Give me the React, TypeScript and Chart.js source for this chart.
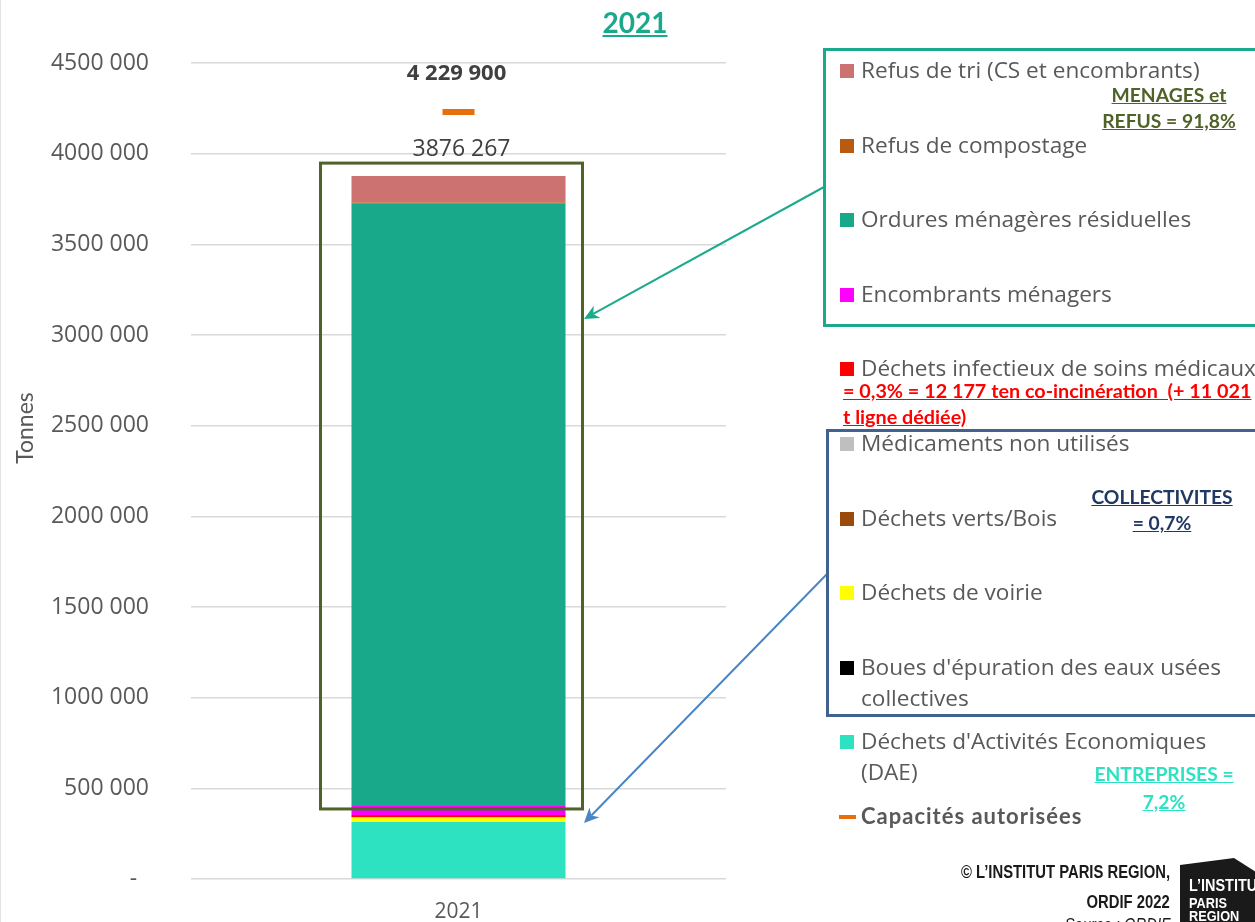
import React, { useEffect, useRef } from "react";
import { Chart, registerables } from "chart.js";
Chart.register(...registerables);

// ---------- DATA ----------
const categories = ["2021"];
// stacked from bottom to top
const dae = [314000];
const boues = [600];
const voirie = [24500];
const vertsBois = [1500];
const medicaments = [400];
const infectieux = [12177];
const encombrants = [50000];
const omr = [3320000];
const refusCompostage = [8000];
const refusTri = [145090];
const capacites = [4229900];

const seriesNames = [
  "Déchets d'Activités Economiques\n(DAE)",
  "Boues d'épuration des eaux usées\ncollectives",
  "Déchets de voirie",
  "Déchets verts/Bois",
  "Médicaments non utilisés",
  "Déchets infectieux de soins médicaux",
  "Encombrants ménagers",
  "Ordures ménagères résiduelles",
  "Refus de compostage",
  "Refus de tri (CS et encombrants)",
];
const seriesData = [dae, boues, voirie, vertsBois, medicaments, infectieux, encombrants, omr, refusCompostage, refusTri];
const seriesColors = ["#2de2c1", "#000000", "#ffff00", "#9a4a0a", "#bfbfbf", "#ff0000", "#ff00ff", "#18a88a", "#b85a10", "#cc7270"];
const capacityName = "Capacités autorisées";
const capacityColor = "#e8700c";

const yMax = 4500000;
const yStep = 500000;

const title = "2021";
const yTitle = "Tonnes";

// ---------- HELPERS ----------
const fmtExcel = (v: number) =>
  v === 0 ? "-  " : v >= 1000 ? `${Math.floor(v / 1000)} ${String(v % 1000).padStart(3, "0")}` : String(v);
const fmtGrouped = (v: number) => String(v).replace(/\B(?=(\d{3})+(?!\d))/g, " ");

const TICK_FONT = '"Open Sans"';
const GRAY = "#595959";
const NARROW = '"Liberation Sans", Arial, sans-serif';

function arrow(ctx: CanvasRenderingContext2D, x1: number, y1: number, x2: number, y2: number, color: string) {
  const a = Math.atan2(y2 - y1, x2 - x1);
  const L = 15;
  const W = 7;
  ctx.strokeStyle = color;
  ctx.lineWidth = 2;
  ctx.beginPath();
  ctx.moveTo(x1, y1);
  ctx.lineTo(x2 - L * 0.7 * Math.cos(a), y2 - L * 0.7 * Math.sin(a));
  ctx.stroke();
  ctx.fillStyle = color;
  ctx.beginPath();
  ctx.moveTo(x2, y2);
  ctx.lineTo(x2 - L * Math.cos(a) + W * Math.sin(a), y2 - L * Math.sin(a) - W * Math.cos(a));
  ctx.lineTo(x2 - L * 0.7 * Math.cos(a), y2 - L * 0.7 * Math.sin(a));
  ctx.lineTo(x2 - L * Math.cos(a) - W * Math.sin(a), y2 - L * Math.sin(a) + W * Math.cos(a));
  ctx.closePath();
  ctx.fill();
}

const annotationPlugin = {
  id: "annotations",
  afterDraw(chart: any) {
    const ctx: CanvasRenderingContext2D = chart.ctx;
    const y = chart.scales.y;
    const bar = chart.getDatasetMeta(0).data[0];
    const cx = bar.x;
    const half = bar.width / 2;
    const total = seriesData.reduce((s, d) => s + d[0], 0);
    const householdBase = seriesData.slice(0, 6).reduce((s, d) => s + d[0], 0);
    const topPx = y.getPixelForValue(total);
    const capPx = y.getPixelForValue(capacites[0]);
    const basePx = y.getPixelForValue(householdBase);

    ctx.save();
    ctx.textAlign = "center";
    ctx.textBaseline = "middle";
    ctx.fillStyle = "#404040";
    ctx.font = `23px ${TICK_FONT}`;
    ctx.fillText(fmtExcel(total), cx + 3, topPx - 27);
    ctx.font = `bold 22px ${TICK_FONT}`;
    ctx.fillText(fmtGrouped(capacites[0]), cx - 2, capPx - 38);

    // households box
    ctx.strokeStyle = "#4f6228";
    ctx.lineWidth = 3;
    ctx.strokeRect(cx - half - 31, topPx - 13, 2 * half + 48, basePx - 6 - (topPx - 13));

    // arrows
    arrow(ctx, 823, 187, 583, 319, "#1bab8b");
    arrow(ctx, 826, 574, 583, 823, "#4a85c5");

    // y title
    ctx.translate(25, 428);
    ctx.rotate(-Math.PI / 2);
    ctx.font = `23px Lato`;
    ctx.fillStyle = GRAY;
    ctx.fillText(yTitle, 0, 0);
    ctx.restore();
  },
};

export default function App() {
  const ref = useRef<HTMLCanvasElement>(null);

  useEffect(() => {
    const datasets: any[] = seriesData.map((d, i) => ({
      type: "bar",
      label: seriesNames[i],
      data: d,
      backgroundColor: seriesColors[i],
      borderWidth: 0,
      stack: "tonnage",
      categoryPercentage: 1,
      barPercentage: 0.4,
    }));
    datasets.push({
      type: "line",
      label: capacityName,
      data: capacites,
      stack: "capacite",
      showLine: false,
      pointStyle: "line",
      pointRadius: 16,
      pointHoverRadius: 16,
      pointBorderWidth: 6,
      borderColor: capacityColor,
      backgroundColor: capacityColor,
    });

    const chart = new Chart(ref.current as HTMLCanvasElement, {
      type: "bar",
      data: { labels: categories, datasets },
      options: {
        responsive: false,
        animation: false,
        layout: { autoPadding: false, padding: { left: 0, right: 530, top: 63, bottom: 0 } },
        plugins: { legend: { display: false }, tooltip: { enabled: false }, title: { display: false } },
        scales: {
          x: {
            stacked: true,
            grid: { display: false, drawTicks: false },
            border: { display: false },
            ticks: { padding: 20, color: GRAY, font: { family: TICK_FONT, size: 21 } },
            afterFit: (s: any) => {
              s.height = 43;
            },
          },
          y: {
            stacked: true,
            min: 0,
            max: yMax,
            grid: { color: "#d9d9d9", lineWidth: 1.5, drawTicks: true, tickLength: 32, tickColor: "rgba(0,0,0,0)" },
            border: { display: false },
            ticks: {
              stepSize: yStep,
              padding: 10,
              color: GRAY,
              font: { family: TICK_FONT, size: 23 },
              callback: (v: any) => fmtExcel(Number(v)),
            },
            afterFit: (s: any) => {
              s.width = 190;
            },
          },
        },
      } as any,
      plugins: [annotationPlugin],
    });
    return () => chart.destroy();
  }, []);

  const legendNames = [...seriesNames].reverse();
  const legendColors = [...seriesColors].reverse();
  const legendFont: React.CSSProperties = {
    position: "absolute",
    fontFamily: TICK_FONT,
    fontSize: 22.6,
    lineHeight: "31px",
    color: GRAY,
    whiteSpace: "pre",
  };
  const noteBase: React.CSSProperties = {
    position: "absolute",
    fontFamily: "Lato",
    fontWeight: 700,
    textDecoration: "underline",
    textAlign: "center",
    whiteSpace: "pre",
    fontSize: 19.3,
  };

  return (
    <div
      style={{
        position: "fixed",
        left: 0,
        top: 0,
        width: 1255,
        height: 922,
        overflow: "hidden",
        background: "#fff",
        borderLeft: "1px solid #e4e4e4",
        boxSizing: "border-box",
      }}
    >
      <canvas ref={ref} width={1255} height={922} style={{ position: "absolute", left: 0, top: 0 }} />

      {/* title */}
      <div
        style={{
          position: "absolute",
          left: 534,
          width: 200,
          top: 3,
          textAlign: "center",
          fontFamily: "Lato",
          fontWeight: 700,
          fontSize: 28,
          lineHeight: "38px",
          color: "#1ba98b",
          textDecoration: "underline",
        }}
      >
        {title}
      </div>

      {/* legend boxes */}
      <div style={{ position: "absolute", left: 822, top: 48, width: 500, height: 279, border: "3px solid #1ba98b", boxSizing: "border-box" }} />
      <div style={{ position: "absolute", left: 825, top: 429, width: 500, height: 288, border: "3px solid #41628f", boxSizing: "border-box" }} />

      {/* legend items */}
      {legendNames.map((name, i) => {
        const cy = 71 + i * 74.6;
        return (
          <React.Fragment key={name}>
            <div style={{ position: "absolute", left: 839, top: cy - 7, width: 14, height: 14, background: legendColors[i] }} />
            <div style={{ ...legendFont, left: 860, top: cy - 17 }}>{name}</div>
          </React.Fragment>
        );
      })}
      {(() => {
        const cy = 71 + legendNames.length * 74.6;
        return (
          <>
            <div style={{ position: "absolute", left: 838, top: cy - 2, width: 17, height: 4, background: capacityColor }} />
            <div style={{ ...legendFont, left: 860, top: cy - 17, fontFamily: "Lato", fontWeight: 700, fontSize: 22, letterSpacing: 1 }}>
              {capacityName}
            </div>
          </>
        );
      })()}

      {/* group notes */}
      <div style={{ ...noteBase, left: 1018, width: 300, top: 82, lineHeight: "26px", color: "#4f6228" }}>
        {"MENAGES et\nREFUS = 91,8%"}
      </div>
      <div style={{ ...noteBase, left: 842, top: 377, lineHeight: "26px", color: "#ff0000", textAlign: "left", fontSize: 19.8 }}>
        {"= 0,3% = 12 177 ten co-incinération  (+ 11 021\nt ligne dédiée)"}
      </div>
      <div style={{ ...noteBase, left: 1011, width: 300, top: 484, lineHeight: "26px", color: "#1f3864" }}>
        {"COLLECTIVITES\n= 0,7%"}
      </div>
      <div style={{ ...noteBase, left: 1013, width: 300, top: 760, lineHeight: "28px", color: "#2de2c1" }}>
        {"ENTREPRISES =\n7,2%"}
      </div>

      {/* footer / credit */}
      {[
        { text: "© L’INSTITUT PARIS REGION,", cy: 872, bold: true },
        { text: "ORDIF 2022", cy: 902, bold: true },
        { text: "Source : ORDIF", cy: 925, bold: false },
      ].map((l) => (
        <div
          key={l.text}
          style={{
            position: "absolute",
            right: 1255 - 1170,
            top: l.cy - 12,
            fontFamily: NARROW,
            fontWeight: l.bold ? 700 : 400,
            fontStyle: l.bold ? "normal" : "italic",
            fontSize: 19,
            lineHeight: "24px",
            color: "#1a1a1a",
            whiteSpace: "pre",
            transform: "scaleX(0.78)",
            transformOrigin: "right center",
          }}
        >
          {l.text}
        </div>
      ))}
      <svg style={{ position: "absolute", left: 1175, top: 850 }} width={80} height={72}>
        <polygon points="4,15 58,8 80,22 80,72 4,72" fill="#1a1a1a" />
        <g transform="translate(13,0) scale(0.85,1)">
          <text x={0} y={41} fill="#fff" fontFamily={NARROW} fontWeight={700} fontSize={17}>
            L’INSTITUT
          </text>
          <text x={0} y={58} fill="#fff" fontFamily={NARROW} fontWeight={700} fontSize={15}>
            PARIS
          </text>
          <text x={0} y={71} fill="#fff" fontFamily={NARROW} fontWeight={700} fontSize={15}>
            REGION
          </text>
        </g>
      </svg>
    </div>
  );
}
